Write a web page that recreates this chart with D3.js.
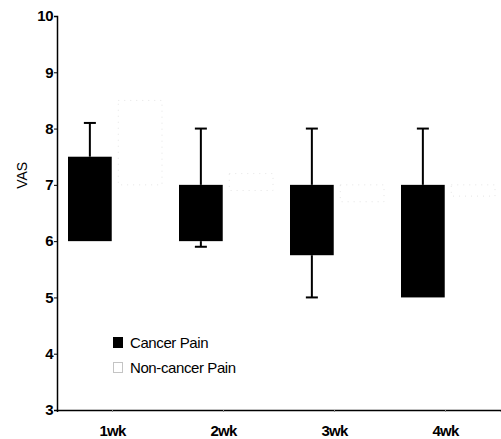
<!DOCTYPE html>
<html>
<head>
<meta charset="utf-8">
<script src="https://cdn.jsdelivr.net/npm/d3@7"></script>
<style>
  html, body { margin: 0; padding: 0; background: #fff; }
  svg { display: block; font-family: "Liberation Sans", Arial, sans-serif; }
</style>
</head>
<body>
<svg id="chart" width="501" height="439"></svg>
<script>
const categories = ["1wk", "2wk", "3wk", "4wk"];
const seriesNames = ["Cancer Pain", "Non-cancer Pain"];
// Cancer pain: box (q1, q3) and whiskers (low, high)
const cancerQ1   = [6.0, 6.0, 5.75, 5.0];
const cancerQ3   = [7.5, 7.0, 7.0, 7.0];
const cancerLow  = [6.0, 5.9, 5.0, 5.0];
const cancerHigh = [8.1, 8.0, 8.0, 8.0];
// Non-cancer pain (drawn very faint in the original)
const nonQ1 = [7.0, 6.9, 6.7, 6.8];
const nonQ3 = [8.5, 7.2, 7.0, 7.0];
const yTicks = [3, 4, 5, 6, 7, 8, 9, 10];

const svg = d3.select("#chart");
const x0 = 57, x1 = 501, yTop = 16, yBot = 410;
const FONT = "'Liberation Sans', Arial, sans-serif";

const x = d3.scaleBand().domain(categories).range([x0, x1]).padding(0);
const xs = d3.scaleBand().domain(seriesNames).range([11, 105]).paddingInner(0.13).paddingOuter(0);
const y = d3.scaleLinear().domain([3, 10]).range([yBot, yTop]);

// Non-cancer boxes (faint dotted)
svg.append("g").selectAll("rect").data(categories).join("rect")
  .attr("x", d => x(d) + xs("Non-cancer Pain"))
  .attr("width", xs.bandwidth())
  .attr("y", (d, i) => y(nonQ3[i]))
  .attr("height", (d, i) => y(nonQ1[i]) - y(nonQ3[i]))
  .attr("fill", "none")
  .attr("stroke", "#e4e4e4")
  .attr("stroke-width", 1)
  .attr("stroke-dasharray", "1,5");

// Cancer whiskers
const wg = svg.append("g");
categories.forEach((c, i) => {
  const cx = x(c) + xs("Cancer Pain") + xs.bandwidth() / 2;
  if (cancerHigh[i] > cancerQ3[i]) {
    wg.append("line").attr("x1", cx).attr("x2", cx)
      .attr("y1", y(cancerQ3[i])).attr("y2", y(cancerHigh[i]))
      .attr("stroke", "#000").attr("stroke-width", 2);
    wg.append("line").attr("x1", cx - 6).attr("x2", cx + 6)
      .attr("y1", y(cancerHigh[i])).attr("y2", y(cancerHigh[i]))
      .attr("stroke", "#000").attr("stroke-width", 2);
  }
  if (cancerLow[i] < cancerQ1[i]) {
    wg.append("line").attr("x1", cx).attr("x2", cx)
      .attr("y1", y(cancerQ1[i])).attr("y2", y(cancerLow[i]))
      .attr("stroke", "#000").attr("stroke-width", 2);
    wg.append("line").attr("x1", cx - 6).attr("x2", cx + 6)
      .attr("y1", y(cancerLow[i])).attr("y2", y(cancerLow[i]))
      .attr("stroke", "#000").attr("stroke-width", 2);
  }
});

// Cancer boxes
svg.append("g").selectAll("rect").data(categories).join("rect")
  .attr("x", d => x(d) + xs("Cancer Pain"))
  .attr("width", xs.bandwidth())
  .attr("y", (d, i) => y(cancerQ3[i]))
  .attr("height", (d, i) => y(cancerQ1[i]) - y(cancerQ3[i]))
  .attr("fill", "#000");

// Y axis
const yAxis = svg.append("g").attr("transform", `translate(${x0},0)`)
  .call(d3.axisLeft(y).tickValues(yTicks).tickFormat(d3.format("d")).tickSize(3).tickPadding(1));
yAxis.select(".domain").attr("stroke-width", 1.5);
yAxis.selectAll("text").attr("font-size", 15).attr("fill", "#000")
  .attr("font-family", FONT).attr("font-weight", "bold").attr("letter-spacing", -0.5);

// X axis
const xAxis = svg.append("g").attr("transform", `translate(0,${yBot})`)
  .call(d3.axisBottom(x).tickSize(2).tickPadding(13));
xAxis.select(".domain").attr("stroke-width", 1.5);
xAxis.selectAll(".tick line").attr("stroke", "#888");
xAxis.selectAll(".tick text")
  .attr("font-size", 15).attr("fill", "#000")
  .attr("font-family", FONT).attr("font-weight", "bold").attr("letter-spacing", -0.8);

// Y label
svg.append("text")
  .attr("transform", `translate(27,${y(7.17)}) rotate(-90)`)
  .attr("text-anchor", "middle")
  .attr("font-size", 14)
  .attr("font-family", FONT)
  .text("VAS");

// Legend
const legend = svg.append("g").attr("transform", "translate(113,337)");
seriesNames.forEach((s, i) => {
  const g = legend.append("g").attr("transform", `translate(0,${i * 25})`);
  g.append("rect").attr("x", 0.5).attr("y", 0.5).attr("width", 9).attr("height", 10)
    .attr("fill", i === 0 ? "#000" : "none")
    .attr("stroke", i === 0 ? "#000" : "#888")
    .attr("stroke-dasharray", i === 0 ? null : "1,1");
  g.append("text").attr("x", 17).attr("y", 10.5)
    .attr("font-size", 15).attr("letter-spacing", -0.4).attr("font-family", FONT).text(s);
});
</script>
</body>
</html>
